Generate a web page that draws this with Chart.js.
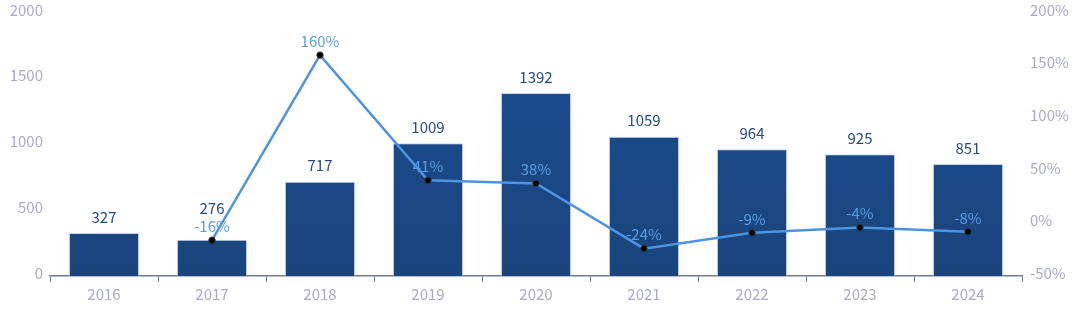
<!DOCTYPE html>
<html>
<head>
<meta charset="utf-8">
<script src="https://cdn.jsdelivr.net/npm/chart.js@4"></script>
<style>
  html, body { margin: 0; padding: 0; background: #fff; }
  #wrap { width: 1080px; height: 322px; position: relative; }
</style>
</head>
<body>
<div id="wrap"><canvas id="chart"></canvas></div>
<script>
// values
const years = ['2016', '2017', '2018', '2019', '2020', '2021', '2022', '2023', '2024'];
const amounts = [327, 276, 717, 1009, 1392, 1059, 964, 925, 851];
const growth = [null, -16, 160, 41, 38, -24, -9, -4, -8];
const leftTicks = [0, 500, 1000, 1500, 2000];
const rightTicks = [-50, 0, 50, 100, 150, 200];

const FONT = '"Noto Sans CJK SC", "Noto Sans", sans-serif';
const AXIS_COLOR = '#a9abc6';

// draws value labels above bars and line points, nudging bar labels up when they collide
const labelPlugin = {
    id: 'labels',
    afterDatasetsDraw(chart) {
        const ctx = chart.ctx;
        ctx.save();
        ctx.textAlign = 'center';
        ctx.textBaseline = 'middle';
        ctx.font = '15px ' + FONT;

        const bars = chart.getDatasetMeta(0).data;
        const pts = chart.getDatasetMeta(1).data;

        ctx.fillStyle = '#264b7e';
        bars.forEach((bar, i) => {
            let y = bar.y - 16;
            if (growth[i] !== null) {
                const ly = pts[i].y - 14;
                if (Math.abs(y - ly) < 17) y = ly - 18;
            }
            ctx.fillText(String(amounts[i]), bar.x, y);
        });

        ctx.fillStyle = '#5d9be0';
        pts.forEach((pt, i) => {
            if (growth[i] === null) return;
            ctx.fillText(growth[i] + '%', pt.x, pt.y - 14);
        });
        ctx.restore();
    }
};

function barFill(context) {
    const area = context.chart.chartArea;
    if (!area) return '#1a4a8a';
    const g = context.chart.ctx.createLinearGradient(0, area.top, 0, area.bottom);
    g.addColorStop(0, '#1b4f93');
    g.addColorStop(1, '#1a447c');
    return g;
}

function fitY(width) {
    return function (scale) {
        scale.width = width;
        scale.paddingTop = 0;
        scale.paddingBottom = 0;
    };
}

new Chart(document.getElementById('chart'), {
    data: {
        labels: years,
        datasets: [{
            type: 'bar',
            data: amounts,
            yAxisID: 'y',
            backgroundColor: barFill,
            borderColor: 'rgba(150,180,220,0.55)',
            borderWidth: 1,
            categoryPercentage: 0.65,
            barPercentage: 1,
            order: 2
        }, {
            type: 'line',
            data: growth,
            yAxisID: 'y1',
            borderColor: '#4f93e0',
            borderWidth: 2.5,
            pointRadius: 3.2,
            pointBackgroundColor: '#000',
            pointBorderColor: '#333',
            pointBorderWidth: 1,
            tension: 0,
            order: 1
        }]
    },
    options: {
        responsive: true,
        maintainAspectRatio: false,
        animation: false,
        layout: { padding: { top: 13, left: 0, right: 0, bottom: 0 } },
        plugins: { legend: { display: false }, tooltip: { enabled: false } },
        scales: {
            x: {
                offset: true,
                grid: {
                    display: true,
                    offset: true,
                    drawOnChartArea: false,
                    tickLength: 6,
                    color: '#6f7b92'
                },
                border: { color: '#6f7b92', width: 1.5 },
                ticks: { color: AXIS_COLOR, font: { family: FONT, size: 15 }, padding: 3 },
                afterFit(scale) { scale.height = 46; }
            },
            y: {
                position: 'left',
                min: 0,
                max: 2000,
                grid: { display: false },
                border: { display: false },
                afterBuildTicks(scale) { scale.ticks = leftTicks.map(v => ({ value: v })); },
                ticks: {
                    color: AXIS_COLOR,
                    font: { family: FONT, size: 15 },
                    padding: -1,
                    labelOffset: -3,
                    callback: v => String(v)
                },
                afterFit: fitY(50)
            },
            y1: {
                position: 'right',
                min: -50,
                max: 200,
                grid: { display: false },
                border: { display: false },
                afterBuildTicks(scale) { scale.ticks = rightTicks.map(v => ({ value: v })); },
                ticks: {
                    color: AXIS_COLOR,
                    font: { family: FONT, size: 15 },
                    padding: 0,
                    labelOffset: -3,
                    callback: v => v + '%'
                },
                afterFit: fitY(58)
            }
        }
    },
    plugins: [labelPlugin]
});
</script>
</body>
</html>
